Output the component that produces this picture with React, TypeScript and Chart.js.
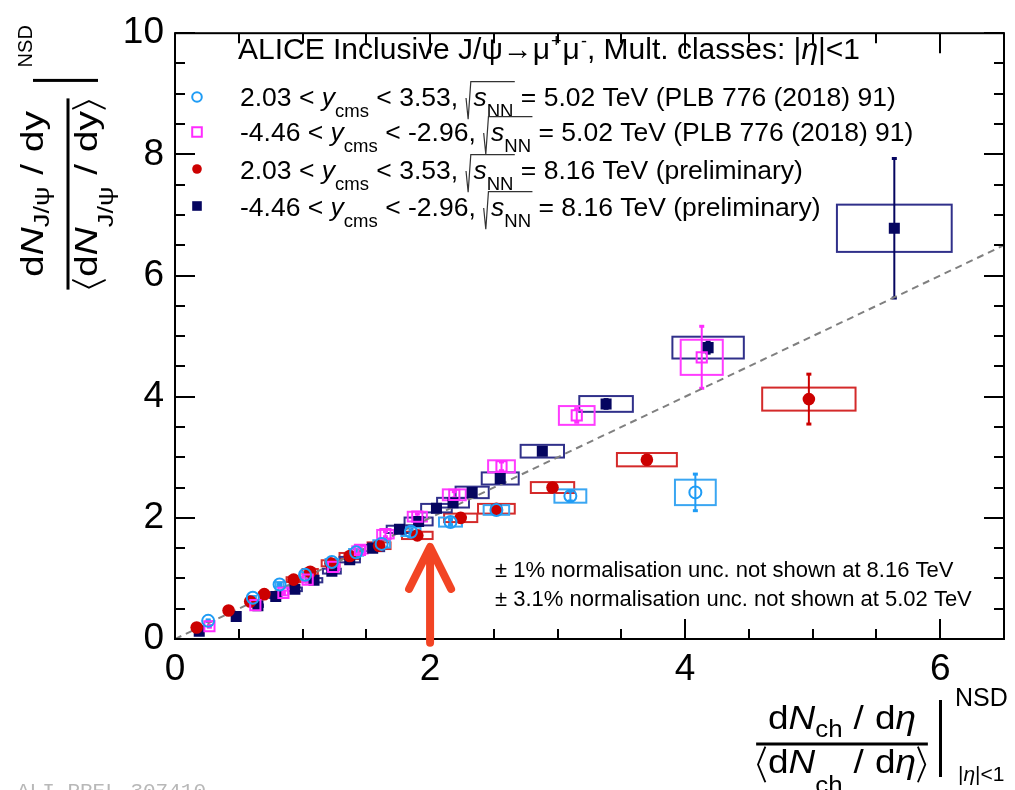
import React, { useEffect, useRef } from 'react';
import { Chart, registerables } from 'chart.js';

Chart.register(...registerables);

const SANS = '"Liberation Sans", Arial, Helvetica, sans-serif';
const MONO = '"Liberation Mono", "DejaVu Sans Mono", monospace';

// Axis ranges and labelled ticks
const xLimits = [0, 6.5];
const yLimits = [0, 10];
const xTickLabels = [0, 2, 4, 6];
const yTickLabels = [0, 2, 4, 6, 8, 10];
const minorStep = 0.5;

// 5.02 TeV, 2.03 < y_cms < 3.53
const fwd502X = [0.26, 0.61, 0.82, 1.02, 1.23, 1.42, 1.62, 1.85, 2.16, 2.52, 3.10, 4.08];
const fwd502Y = [0.30, 0.68, 0.90, 1.06, 1.27, 1.43, 1.57, 1.77, 1.93, 2.13, 2.36, 2.42];
const fwd502Stat = [0.02, 0.02, 0.02, 0.03, 0.03, 0.03, 0.04, 0.04, 0.05, 0.06, 0.09, 0.31];
const fwd502SysX = [0.01, 0.025, 0.03, 0.04, 0.05, 0.055, 0.065, 0.075, 0.09, 0.10, 0.125, 0.16];
const fwd502SysY = [0.02, 0.03, 0.04, 0.045, 0.05, 0.055, 0.06, 0.07, 0.075, 0.08, 0.11, 0.21];

// 5.02 TeV, -4.46 < y_cms < -2.96
const bwd502X = [0.27, 0.63, 0.85, 1.04, 1.24, 1.45, 1.65, 1.90, 2.19, 2.56, 3.15, 4.13];
const bwd502Y = [0.21, 0.56, 0.76, 0.98, 1.19, 1.47, 1.73, 2.02, 2.38, 2.85, 3.69, 4.65];
const bwd502Stat = [0.02, 0.02, 0.03, 0.03, 0.03, 0.04, 0.05, 0.05, 0.06, 0.08, 0.12, 0.52];
const bwd502SysX = [0.01, 0.025, 0.035, 0.04, 0.05, 0.06, 0.065, 0.075, 0.09, 0.105, 0.14, 0.165];
const bwd502SysY = [0.02, 0.03, 0.04, 0.045, 0.05, 0.06, 0.07, 0.08, 0.09, 0.10, 0.155, 0.29];

// 8.16 TeV, 2.03 < y_cms < 3.53 (preliminary)
const fwd816X = [0.17, 0.42, 0.59, 0.70, 0.93, 1.06, 1.22, 1.37, 1.60, 1.90, 2.24, 2.52, 2.96, 3.70, 4.97];
const fwd816Y = [0.19, 0.47, 0.62, 0.74, 0.98, 1.11, 1.25, 1.37, 1.54, 1.71, 2.00, 2.15, 2.50, 2.96, 3.96];
const fwd816Stat = [0.01, 0.02, 0.02, 0.02, 0.03, 0.03, 0.03, 0.03, 0.04, 0.04, 0.05, 0.05, 0.06, 0.08, 0.42];
const fwd816SysX = [0.01, 0.025, 0.035, 0.04, 0.055, 0.06, 0.07, 0.08, 0.09, 0.12, 0.13, 0.144, 0.17, 0.235, 0.366];
const fwd816SysY = [0.01, 0.02, 0.025, 0.03, 0.04, 0.045, 0.05, 0.05, 0.055, 0.06, 0.07, 0.08, 0.09, 0.11, 0.19];

// 8.16 TeV, -4.46 < y_cms < -2.96 (preliminary)
const bwd816X = [0.19, 0.48, 0.65, 0.79, 0.94, 1.09, 1.23, 1.37, 1.55, 1.76, 1.91, 2.05, 2.18, 2.33, 2.55, 2.88, 3.38, 4.18, 5.64];
const bwd816Y = [0.13, 0.37, 0.55, 0.70, 0.82, 0.97, 1.12, 1.31, 1.50, 1.81, 1.94, 2.16, 2.25, 2.42, 2.65, 3.10, 3.88, 4.81, 6.78];
const bwd816Stat = [0.01, 0.01, 0.02, 0.02, 0.02, 0.02, 0.03, 0.03, 0.03, 0.04, 0.04, 0.04, 0.05, 0.05, 0.05, 0.06, 0.08, 0.10, 1.16];
const bwd816SysX = [0.01, 0.03, 0.04, 0.045, 0.055, 0.065, 0.07, 0.08, 0.09, 0.10, 0.11, 0.12, 0.125, 0.13, 0.145, 0.17, 0.21, 0.28, 0.45];
const bwd816SysY = [0.01, 0.015, 0.02, 0.025, 0.03, 0.035, 0.04, 0.045, 0.05, 0.06, 0.065, 0.07, 0.08, 0.095, 0.10, 0.105, 0.13, 0.18, 0.39];

// y = x reference line
const diagX = [0, 6.5];
const diagY = [0, 6.5];

// Legend text
const legendTitle = 'ALICE Inclusive J/ψ→μ';
const legendRapidity = [['2.03', '3.53'], ['-4.46', '-2.96'], ['2.03', '3.53'], ['-4.46', '-2.96']];
const legendEnergy = ['5.02', '5.02', '8.16', '8.16'];
const legendNote = ['(PLB 776 (2018) 91)', '(PLB 776 (2018) 91)', '(preliminary)', '(preliminary)'];
const normNotes = ['± 1% normalisation unc. not shown at 8.16 TeV', '± 3.1% normalisation unc. not shown at 5.02 TeV'];
const watermark = 'ALI-PREL-307410';

// Marked multiplicity value
const arrowX = 2;
const arrowTipY = 1.52;
const arrowTailY = -0.06;

type Series = {
  x: number[]; y: number[]; stat: number[]; sysX: number[]; sysY: number[];
  color: string; box: string; style: 'circle' | 'rect'; radius: number; fill: string; bw: number;
};

const series: Series[] = [
  { x: fwd502X, y: fwd502Y, stat: fwd502Stat, sysX: fwd502SysX, sysY: fwd502SysY,
    color: '#1f9cf5', box: '#3aa6f2', style: 'circle', radius: 6, fill: 'rgba(0,0,0,0)', bw: 2 },
  { x: bwd502X, y: bwd502Y, stat: bwd502Stat, sysX: bwd502SysX, sysY: bwd502SysY,
    color: '#ff2cff', box: '#ff3cff', style: 'rect', radius: 7.2, fill: 'rgba(0,0,0,0)', bw: 2 },
  { x: fwd816X, y: fwd816Y, stat: fwd816Stat, sysX: fwd816SysX, sysY: fwd816SysY,
    color: '#cc0000', box: '#d42a2a', style: 'circle', radius: 6.3, fill: '#cc0000', bw: 0 },
  { x: bwd816X, y: bwd816Y, stat: bwd816Stat, sysX: bwd816SysX, sysY: bwd816SysY,
    color: '#050560', box: '#30308a', style: 'rect', radius: 7.8, fill: '#050560', bw: 0 },
];

type Piece = { t?: string; it?: boolean; dy?: number; k?: number; gap?: number; br?: 'L' | 'R' };

function fontOf(size: number, italic?: boolean) {
  return `${italic ? 'italic ' : ''}${size}px ${SANS}`;
}

function drawBracket(ctx: CanvasRenderingContext2D, x: number, y: number, size: number, side: 'L' | 'R') {
  const w = 0.2 * size;
  const top = y - 0.8 * size;
  const mid = y - 0.26 * size;
  const bot = y + 0.28 * size;
  ctx.save();
  ctx.lineWidth = Math.max(1.3, 0.05 * size);
  ctx.beginPath();
  if (side === 'L') {
    ctx.moveTo(x + w + 0.05 * size, top);
    ctx.lineTo(x + 0.05 * size, mid);
    ctx.lineTo(x + w + 0.05 * size, bot);
  } else {
    ctx.moveTo(x + 0.05 * size, top);
    ctx.lineTo(x + w + 0.05 * size, mid);
    ctx.lineTo(x + 0.05 * size, bot);
  }
  ctx.stroke();
  ctx.restore();
}

function layoutPieces(ctx: CanvasRenderingContext2D, pieces: Piece[], size: number, x: number, y: number, draw: boolean) {
  let cx = x;
  for (const p of pieces) {
    if (p.gap) { cx += p.gap * size; continue; }
    if (p.br) {
      if (draw) drawBracket(ctx, cx, y, size, p.br);
      cx += 0.32 * size;
      continue;
    }
    const s = size * (p.k ?? 1);
    ctx.font = fontOf(s, p.it);
    if (draw) ctx.fillText(p.t!, cx, y + (p.dy ?? 0) * size);
    cx += ctx.measureText(p.t!).width;
  }
  return cx - x;
}

function put(ctx: CanvasRenderingContext2D, text: string, x: number, y: number, size: number, italic = false) {
  ctx.font = fontOf(size, italic);
  ctx.fillText(text, x, y);
  return x + ctx.measureText(text).width;
}

function drawLegendEntry(ctx: CanvasRenderingContext2D, i: number, x: number, y: number, size: number) {
  const sub = 0.42 * size;
  const ks = 0.7 * size;
  let cx = put(ctx, `${legendRapidity[i][0]} < `, x, y, size);
  cx = put(ctx, 'y', cx, y, size, true);
  cx = put(ctx, 'cms', cx, y + sub, ks);
  cx = put(ctx, ` < ${legendRapidity[i][1]}, `, cx, y, size);
  const rx = cx;
  cx += 0.3 * size;
  cx = put(ctx, 's', cx, y, size, true);
  cx = put(ctx, 'NN', cx, y + sub, ks);
  ctx.save();
  ctx.lineWidth = 1.2;
  ctx.strokeStyle = '#333';
  ctx.beginPath();
  ctx.moveTo(rx + 0.02 * size, y - 0.3 * size);
  ctx.lineTo(rx + 0.1 * size, y + 0.5 * size);
  ctx.lineTo(rx + 0.2 * size, y - 0.92 * size);
  ctx.lineTo(cx + 0.05 * size, y - 0.92 * size);
  ctx.stroke();
  ctx.restore();
  put(ctx, ` = ${legendEnergy[i]} TeV ${legendNote[i]}`, cx, y, size);
}

function drawMarker(ctx: CanvasRenderingContext2D, s: Series, x: number, y: number, r: number) {
  ctx.save();
  ctx.beginPath();
  if (s.style === 'circle') ctx.arc(x, y, r, 0, Math.PI * 2);
  else ctx.rect(x - r, y - r, 2 * r, 2 * r);
  if (s.bw > 0) {
    ctx.strokeStyle = s.color;
    ctx.lineWidth = s.bw;
    ctx.stroke();
  } else {
    ctx.fillStyle = s.fill;
    ctx.fill();
  }
  ctx.restore();
}

// Systematic boxes and statistical error bars, drawn beneath the markers
const uncertaintyPlugin = {
  id: 'uncertainties',
  beforeDatasetsDraw(chart: any) {
    const { ctx, scales } = chart;
    const xs = scales.x, ys = scales.y;
    const order = [2, 3, 0, 1];
    ctx.save();
    for (const si of order) {
      const s = series[si];
      ctx.strokeStyle = s.box;
      ctx.lineWidth = 2;
      s.x.forEach((xv, i) => {
        const x0 = xs.getPixelForValue(xv - s.sysX[i]);
        const x1 = xs.getPixelForValue(xv + s.sysX[i]);
        const y0 = ys.getPixelForValue(s.y[i] + s.sysY[i]);
        const y1 = ys.getPixelForValue(s.y[i] - s.sysY[i]);
        ctx.strokeRect(x0, y0, x1 - x0, y1 - y0);
      });
      ctx.strokeStyle = s.color;
      ctx.fillStyle = s.color;
      s.x.forEach((xv, i) => {
        const px = xs.getPixelForValue(xv);
        const top = ys.getPixelForValue(s.y[i] + s.stat[i]);
        const bot = ys.getPixelForValue(s.y[i] - s.stat[i]);
        ctx.lineWidth = 2;
        ctx.beginPath();
        ctx.moveTo(px, top);
        ctx.lineTo(px, bot);
        ctx.stroke();
        ctx.fillRect(px - 2.5, top - 1, 5, 3);
        ctx.fillRect(px - 2.5, bot - 2, 5, 3);
      });
    }
    ctx.restore();
  },
};

// Frame with inward ticks on all four sides
const framePlugin = {
  id: 'frame',
  afterDatasetsDraw(chart: any) {
    const { ctx, chartArea: a, scales } = chart;
    const xs = scales.x, ys = scales.y;
    ctx.save();
    ctx.strokeStyle = '#000';
    ctx.lineWidth = 2;
    ctx.strokeRect(a.left, a.top, a.right - a.left, a.bottom - a.top);
    ctx.beginPath();
    for (let v = xLimits[0]; v <= xLimits[1] + 1e-9; v += minorStep) {
      const px = Math.round(xs.getPixelForValue(v));
      const len = xTickLabels.includes(Math.round(v * 100) / 100) ? 20 : 10;
      ctx.moveTo(px, a.bottom); ctx.lineTo(px, a.bottom - len);
      ctx.moveTo(px, a.top); ctx.lineTo(px, a.top + len);
    }
    for (let v = yLimits[0]; v <= yLimits[1] + 1e-9; v += minorStep) {
      const py = Math.round(ys.getPixelForValue(v));
      const len = yTickLabels.includes(Math.round(v * 100) / 100) ? 20 : 10;
      ctx.moveTo(a.left, py); ctx.lineTo(a.left + len, py);
      ctx.moveTo(a.right, py); ctx.lineTo(a.right - len, py);
    }
    ctx.stroke();
    ctx.restore();
  },
};

function drawYTitle(ctx: CanvasRenderingContext2D) {
  const size = 31;
  const stretch = 1.26;
  const num: Piece[] = [{ t: 'd' }, { t: 'N', it: true }, { t: 'J/ψ', k: 0.7, dy: 0.2 }, { gap: 0.3 }, { t: '/' }, { gap: 0.3 }, { t: 'dy' }];
  const den: Piece[] = [{ br: 'L' }, { t: 'd' }, { t: 'N', it: true }, { t: 'J/ψ', k: 0.7, dy: 0.5 }, { gap: 0.3 }, { t: '/' }, { gap: 0.3 }, { t: 'dy' }, { br: 'R' }];
  ctx.save();
  ctx.fillStyle = '#000';
  ctx.strokeStyle = '#000';
  ctx.translate(68, 194);
  ctx.rotate(-Math.PI / 2);
  ctx.save();
  ctx.scale(stretch, 1);
  const wn = layoutPieces(ctx, num, size, 0, 0, false);
  const wd = layoutPieces(ctx, den, size, 0, 0, false);
  const w = Math.max(wn, wd);
  layoutPieces(ctx, num, size, -wn / 2, -25, true);
  layoutPieces(ctx, den, size, -wd / 2, 29, true);
  ctx.fillRect(-w / 2, -1.5, w, 3);
  ctx.restore();
  const barX = (w * stretch) / 2 + 18;
  ctx.fillRect(barX - 1.5, -35, 3, 65);
  ctx.font = fontOf(20);
  ctx.fillText('NSD', barX + 13, -36);
  ctx.restore();
}

function drawXTitle(ctx: CanvasRenderingContext2D) {
  const size = 33;
  const stretch = 1.12;
  const num: Piece[] = [{ t: 'd' }, { t: 'N', it: true }, { t: 'ch', k: 0.7, dy: 0.25 }, { gap: 0.3 }, { t: '/' }, { gap: 0.3 }, { t: 'd' }, { t: 'η', it: true }];
  const den: Piece[] = [{ br: 'L' }, { t: 'd' }, { t: 'N', it: true }, { t: 'ch', k: 0.7, dy: 0.6 }, { gap: 0.3 }, { t: '/' }, { gap: 0.3 }, { t: 'd' }, { t: 'η', it: true }, { br: 'R' }];
  ctx.save();
  ctx.fillStyle = '#000';
  ctx.strokeStyle = '#000';
  ctx.save();
  ctx.translate(842, 744);
  ctx.scale(stretch, 1);
  const wn = layoutPieces(ctx, num, size, 0, 0, false);
  const wd = layoutPieces(ctx, den, size, 0, 0, false);
  const w = Math.max(wn, wd);
  layoutPieces(ctx, num, size, -wn / 2, -15, true);
  layoutPieces(ctx, den, size, -wd / 2, 29, true);
  ctx.fillRect(-w / 2, -1.5, w, 3);
  ctx.restore();
  ctx.fillRect(939, 700, 3, 77);
  put(ctx, 'NSD', 955, 706, 25);
  let cx = put(ctx, '|', 958, 781, 21);
  cx = put(ctx, 'η', cx, 781, 21, true);
  put(ctx, '|<1', cx, 781, 21);
  ctx.restore();
}

// Legend, notes, axis titles and the marker arrow
const annotationPlugin = {
  id: 'annotations',
  afterDraw(chart: any) {
    const { ctx, scales } = chart;
    ctx.save();
    ctx.fillStyle = '#000';
    ctx.textBaseline = 'alphabetic';
    ctx.textAlign = 'left';

    // header
    const hs = 30;
    const hy = 59;
    let cx = put(ctx, legendTitle, 238, hy, hs);
    cx = put(ctx, '+', cx + 1, hy - 0.4 * hs, 0.6 * hs);
    cx = put(ctx, 'μ', cx + 1, hy, hs);
    cx = put(ctx, '-', cx + 1, hy - 0.4 * hs, 0.6 * hs);
    cx = put(ctx, ', Mult. classes: |', cx, hy, hs);
    cx = put(ctx, 'η', cx, hy, hs, true);
    put(ctx, '|<1', cx, hy, hs);

    // entries
    const rows = [106, 141, 179, 216];
    const rowMarkerY = [97, 132, 169, 206];
    rows.forEach((y, i) => {
      ctx.fillStyle = '#000';
      drawLegendEntry(ctx, i, 240, y, 26.5);
      const s = series[i];
      drawMarker(ctx, s, 197, rowMarkerY[i], 4.8);
    });

    // normalisation notes
    ctx.fillStyle = '#000';
    put(ctx, normNotes[0], 495, 577, 22);
    put(ctx, normNotes[1], 495, 606, 22);

    drawYTitle(ctx);
    drawXTitle(ctx);

    // watermark
    ctx.fillStyle = '#b8b8b8';
    ctx.font = `21px ${MONO}`;
    ctx.fillText(watermark, 17, 797);

    // arrow at the marked multiplicity
    const px = scales.x.getPixelForValue(arrowX);
    const tip = scales.y.getPixelForValue(arrowTipY);
    const tail = scales.y.getPixelForValue(arrowTailY);
    ctx.strokeStyle = '#f24424';
    ctx.lineWidth = 8;
    ctx.lineCap = 'round';
    ctx.lineJoin = 'round';
    ctx.beginPath();
    ctx.moveTo(px, tail);
    ctx.lineTo(px, tip + 2);
    ctx.moveTo(px - 21, tip + 42);
    ctx.lineTo(px, tip);
    ctx.lineTo(px + 21, tip + 42);
    ctx.stroke();
    ctx.restore();
  },
};

export default function App() {
  const ref = useRef<HTMLCanvasElement>(null);
  useEffect(() => {
    document.body.style.margin = '0';
    const canvas = ref.current;
    if (!canvas) return;
    const datasets: any[] = series.map((s) => ({
      data: s.x.map((x, i) => ({ x, y: s.y[i] })),
      pointStyle: s.style,
      pointRadius: s.radius,
      pointBackgroundColor: s.fill,
      pointBorderColor: s.color,
      pointBorderWidth: s.bw,
      showLine: false,
    }));
    datasets.push({
      data: diagX.map((x, i) => ({ x, y: diagY[i] })),
      showLine: true,
      borderColor: '#808080',
      borderWidth: 2,
      borderDash: [7, 5],
      pointRadius: 0,
      order: 10,
    });
    const tickFont = { size: 37, family: SANS };
    const chart = new Chart(canvas, {
      type: 'scatter',
      data: { datasets },
      options: {
        responsive: false,
        animation: false,
        devicePixelRatio: 1,
        events: [],
        layout: { padding: { left: 0, top: 19, right: 11, bottom: 0 } },
        plugins: { legend: { display: false }, tooltip: { enabled: false } },
        scales: {
          x: {
            type: 'linear',
            min: xLimits[0],
            max: xLimits[1],
            grid: { display: false, drawTicks: false },
            border: { display: false },
            afterBuildTicks: (scale: any) => { scale.ticks = xTickLabels.map((v) => ({ value: v })); },
            afterFit: (scale: any) => { scale.height = 151; },
            ticks: { font: tickFont, color: '#000', padding: 9, maxRotation: 0, autoSkip: false,
              callback: (v: any) => String(v) },
          },
          y: {
            type: 'linear',
            min: yLimits[0],
            max: yLimits[1],
            grid: { display: false, drawTicks: false },
            border: { display: false },
            afterBuildTicks: (scale: any) => { scale.ticks = yTickLabels.map((v) => ({ value: v })); },
            afterFit: (scale: any) => { scale.width = 175; },
            ticks: { font: tickFont, color: '#000', padding: 11, autoSkip: false,
              callback: (v: any) => String(v) },
          },
        },
      } as any,
      plugins: [uncertaintyPlugin, framePlugin, annotationPlugin],
    });
    return () => chart.destroy();
  }, []);
  return <canvas ref={ref} width={1015} height={790} style={{ display: 'block' }} />;
}
